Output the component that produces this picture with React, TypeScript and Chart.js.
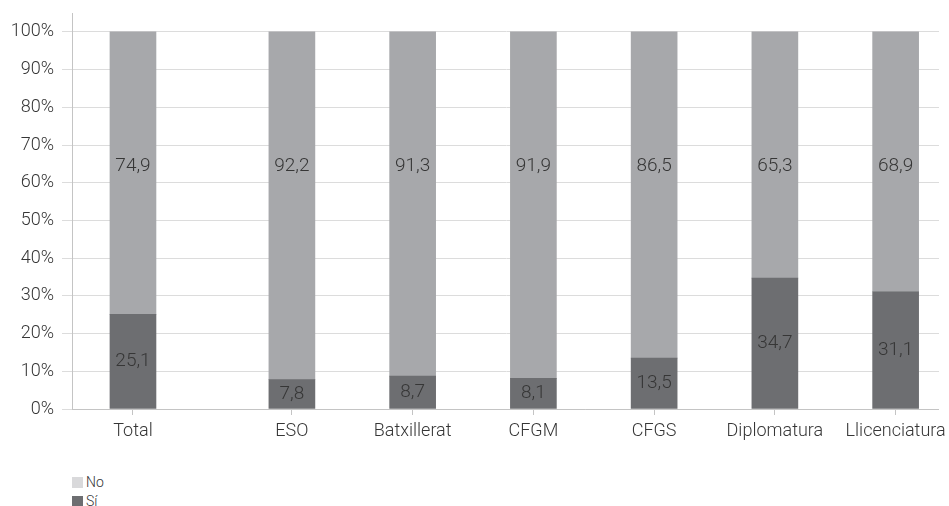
import React, { useEffect, useRef } from 'react';
import { Chart, registerables } from 'chart.js';

Chart.register(...registerables);

// ---- data ----
const totalCategory = ['Total'];
const levelCategories = ['ESO', 'Batxillerat', 'CFGM', 'CFGS', 'Diplomatura', 'Llicenciatura'];
const seriesNames = ['No', 'Sí'];
const totalNo = [74.9];
const totalSi = [25.1];
const levelNo = [92.2, 91.3, 91.9, 86.5, 65.3, 68.9];
const levelSi = [7.8, 8.7, 8.1, 13.5, 34.7, 31.1];
const yTickValues = [0, 10, 20, 30, 40, 50, 60, 70, 80, 90, 100];

// ---- styles ----
const FONT = "Roboto, 'Liberation Sans', Arial, sans-serif";
const TEXT = '#363636';
const NO_COLOR = '#a7a8ab';
const SI_COLOR = '#6d6e71';
const NO_SWATCH = '#d9d9db';
const GRID = '#dcdcdc';
const AXIS = '#c4c4c4';
const W = 960;
const H = 460;

const fmt = (v: number) => v.toFixed(1).replace('.', ',');

// shortens the grid / axis lines on the right (drawn between beforeDraw and beforeDatasetsDraw)
const gridClip = {
  id: 'gridClip',
  beforeDraw(chart: any, _a: any, opts: any) {
    const { ctx, chartArea } = chart;
    ctx.save();
    ctx.beginPath();
    ctx.rect(0, 0, chartArea.right - opts.rightInset, chart.height);
    ctx.clip();
  },
  beforeDatasetsDraw(chart: any) {
    chart.ctx.restore();
  },
};

const valueLabels = {
  id: 'valueLabels',
  afterDatasetsDraw(chart: any, _args: any, opts: any) {
    const { ctx } = chart;
    const yScale = chart.scales.y;
    ctx.save();
    ctx.font = `300 19px ${FONT}`;
    ctx.fillStyle = TEXT;
    ctx.textAlign = 'center';
    ctx.textBaseline = 'middle';
    chart.data.datasets.forEach((ds: any, i: number) => {
      const meta = chart.getDatasetMeta(i);
      meta.data.forEach((el: any, j: number) => {
        const v = ds.data[j];
        const p = el.getProps(['x', 'y', 'base'], true);
        const ty = ds.series === 'No' ? yScale.getPixelForValue(opts.upperLabelLevel) : (p.y + p.base) / 2;
        ctx.fillText(fmt(v), p.x, ty);
      });
    });
    ctx.restore();
  },
};

const xBase = (labels: string[], weight: number, showTicks: boolean) => ({
  type: 'category' as const,
  labels,
  position: 'bottom' as const,
  stack: 'cats',
  stackWeight: weight,
  stacked: true,
  offset: true,
  afterFit: (s: any) => {
    s.height = 51;
    s.paddingLeft = 0;
    s.paddingRight = 0;
  },
  border: { display: true, color: AXIS, width: 1 },
  grid: {
    display: showTicks,
    drawOnChartArea: false,
    drawTicks: true,
    tickLength: 6,
    offset: false,
    color: AXIS,
  },
  ticks: {
    display: showTicks,
    z: 1,
    autoSkip: false,
    maxRotation: 0,
    padding: 6,
    color: TEXT,
    font: { family: FONT, size: 18, weight: 300 as any },
  },
});

export default function App() {
  const ref = useRef<HTMLCanvasElement>(null);

  useEffect(() => {
    if (!ref.current) return;
    const bar = { barThickness: 46, borderWidth: 0, grouped: false };
    const chart = new Chart(ref.current, {
      type: 'bar',
      data: {
        datasets: [
          { ...bar, label: seriesNames[1], series: 'Sí', data: totalSi, xAxisID: 'xTotal', backgroundColor: SI_COLOR },
          { ...bar, label: seriesNames[0], series: 'No', data: totalNo, xAxisID: 'xTotal', backgroundColor: NO_COLOR },
          { ...bar, label: seriesNames[1], series: 'Sí', data: levelSi, xAxisID: 'x', backgroundColor: SI_COLOR },
          { ...bar, label: seriesNames[0], series: 'No', data: levelNo, xAxisID: 'x', backgroundColor: NO_COLOR },
        ] as any,
      },
      options: {
        animation: false,
        responsive: false,
        layout: { padding: { top: 13, right: 4, bottom: 0, left: 0 } },
        plugins: {
          legend: { display: false },
          tooltip: { enabled: false },
          valueLabels: { upperLabelLevel: 64.4 },
          gridClip: { rightInset: 17 },
        } as any,
        scales: {
          xTotal: xBase(totalCategory, 122, true),
          xGap: xBase([''], 37.6, false),
          x: xBase(levelCategories, 724.8, true),
          y: {
            type: 'linear',
            position: 'left',
            stacked: true,
            min: 0,
            max: 105,
            afterFit: (s: any) => {
              s.width = 72;
              s.paddingTop = 0;
              s.paddingBottom = 0;
            },
            afterBuildTicks: (s: any) => {
              s.ticks = yTickValues.map((v) => ({ value: v }));
            },
            border: { display: true, color: AXIS, width: 1 },
            grid: { color: GRID, lineWidth: 1, tickLength: 10, drawTicks: true },
            ticks: {
              padding: 8,
              color: TEXT,
              font: { family: FONT, size: 18, weight: 300 as any },
              callback: (v: any) => `${v}%`,
            },
          },
        } as any,
      },
      plugins: [gridClip, valueLabels],
    });
    return () => chart.destroy();
  }, []);

  const legendRow = (name: string, color: string, top: number) => (
    <div
      key={name}
      style={{
        position: 'absolute',
        left: 72,
        top,
        display: 'flex',
        alignItems: 'center',
        fontFamily: FONT,
        fontWeight: 300,
        fontSize: 14,
        color: TEXT,
        lineHeight: '16px',
      }}
    >
      <span style={{ display: 'inline-block', width: 11, height: 11, background: color, marginRight: 3 }} />
      <span>{name}</span>
    </div>
  );

  return (
    <div style={{ position: 'absolute', left: 0, top: 0, width: 949, height: 506, overflow: 'hidden', background: '#fff' }}>
      <canvas ref={ref} width={W} height={H} style={{ display: 'block', width: W, height: H }} />
      {legendRow(seriesNames[0], NO_SWATCH, 474)}
      {legendRow(seriesNames[1], SI_COLOR, 493)}
    </div>
  );
}
